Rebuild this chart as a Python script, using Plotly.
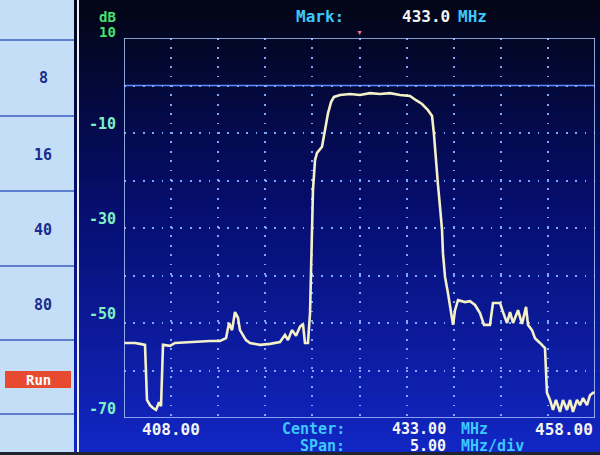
import plotly.graph_objects as go

# ---- data (frequency in MHz, level in dB) ----
freq_mhz = [408.0, 409.17, 409.7, 410.23, 410.44, 410.76, 411.08, 411.40, 411.72, 411.93,
            412.14, 412.88, 413.41, 415.0, 416.07, 417.13, 418.19, 418.83, 419.15, 419.47,
            419.78, 420.10, 420.31, 420.63, 420.95, 421.38, 422.44, 423.50, 424.56, 425.09,
            425.41, 425.83, 426.26, 426.68, 427.0, 427.21, 427.53, 427.75, 427.85, 427.96,
            428.06, 428.28, 428.49, 429.02, 429.34, 429.66, 429.98, 430.29, 430.93, 431.99,
            433.05, 434.11, 435.18, 436.24, 437.30, 438.36, 439.0, 439.64, 440.27, 440.70,
            440.91, 441.12, 441.33, 441.55, 441.76, 441.86, 442.08, 442.39, 442.71, 442.93,
            443.14, 443.46, 444.20, 444.73, 445.26, 445.79, 446.22, 446.85, 447.17, 447.92,
            448.23, 448.66, 448.98, 449.30, 449.83, 450.25, 450.68, 450.89, 451.31, 451.63,
            452.16, 452.69, 452.90, 453.22, 453.54, 453.86, 454.28, 454.60, 455.03, 455.35,
            455.66, 456.09, 456.41, 456.73, 457.15, 457.47, 457.79, 458.0]
level_db = [-54.2, -54.2, -54.4, -54.6, -66.2, -67.3, -67.9, -68.3, -66.7, -67.5,
            -54.6, -54.8, -54.2, -54.0, -54.0, -53.8, -53.8, -53.2, -50.0, -51.5,
            -47.7, -48.9, -51.5, -52.5, -53.6, -54.2, -54.6, -54.4, -54.0, -52.5,
            -53.6, -51.5, -52.7, -50.8, -50.2, -54.2, -54.2, -47.9, -38.9, -31.9,
            -22.0, -15.7, -14.2, -12.9, -9.4, -5.8, -3.5, -2.4, -2.0, -1.8,
            -2.0, -1.6, -1.8, -1.6, -2.0, -2.2, -3.1, -3.9, -5.2, -6.4,
            -10.4, -16.7, -20.9, -25.6, -30.4, -35.3, -40.3, -43.7, -47.9, -50.4,
            -47.3, -45.2, -45.6, -45.4, -46.2, -47.9, -50.4, -50.4, -45.8, -45.8,
            -47.7, -50.0, -47.7, -50.0, -47.3, -50.2, -46.6, -50.4, -51.5, -53.2,
            -54.2, -55.3, -64.7, -66.2, -68.3, -66.2, -68.7, -66.2, -68.3, -66.2,
            -68.7, -66.2, -67.3, -65.8, -67.3, -65.2, -64.7, -64.7]

y_label_vals = [-10, -30, -50, -70]
y_label_text = ["-10", "-30", "-50", "-70"]
x_start_label = "408.00"
x_stop_label = "458.00"
center_label = "433.00"
span_label = "5.00"
marker_label = "433.0"
marker_freq = 433.0
panel_labels = ["8", "16", "40", "80"]

W, H = 600, 455
FONT = "DejaVu Sans Mono"

def px(x):
    return x / W

def py(y):
    return 1 - y / H

fig = go.Figure()
fig.add_trace(go.Scatter(x=freq_mhz, y=level_db, mode="lines",
                         line=dict(color="#f4f0c8", width=2.6),
                         hoverinfo="skip", showlegend=False))

shapes = []
def lerp(a, b, t):
    return int(a + (b - a) * t)

top_c = (3, 6, 22)
mid_c = (6, 14, 110)
bot_c = (18, 38, 196)
n = 46
for i in range(n):
    t = i / (n - 1)
    if t < 0.45:
        u = t / 0.45
        c = tuple(lerp(top_c[k], mid_c[k], u) for k in range(3))
    else:
        u = (t - 0.45) / 0.55
        c = tuple(lerp(mid_c[k], bot_c[k], u) for k in range(3))
    y0 = i * H / n
    y1 = (i + 1) * H / n + 1
    shapes.append(dict(type="rect", xref="paper", yref="paper",
                       x0=0, x1=1, y0=py(y1), y1=py(y0),
                       fillcolor="rgb(%d,%d,%d)" % c, line_width=0, layer="below"))
shapes.append(dict(type="rect", xref="paper", yref="paper", x0=0, x1=1,
                   y0=0, y1=py(452), fillcolor="#20242c", line_width=0, layer="below"))
# left panel
shapes.append(dict(type="rect", xref="paper", yref="paper", x0=0, x1=px(74),
                   y0=py(452), y1=1, fillcolor="#c4def8", line_width=0, layer="below"))
for yy in [40, 116, 191, 266, 340, 414]:
    shapes.append(dict(type="line", xref="paper", yref="paper", x0=0, x1=px(74),
                       y0=py(yy), y1=py(yy), line=dict(color="#3a5cc0", width=1.5)))
shapes.append(dict(type="line", xref="paper", yref="paper", x0=px(78), x1=px(78),
                   y0=py(452), y1=1, line=dict(color="#e8f0ff", width=2)))
shapes.append(dict(type="rect", xref="paper", yref="paper", x0=px(5), x1=px(71),
                   y0=py(388), y1=py(371), fillcolor="#e84a30", line_width=0))
# reference level line at 0 dB
shapes.append(dict(type="line", xref="x", yref="y", x0=408, x1=458, y0=0, y1=0,
                   line=dict(color="#5a8cff", width=1.6), layer="below"))
# frame
shapes.append(dict(type="rect", xref="x", yref="y", x0=408, x1=458, y0=-70, y1=10,
                   line=dict(color="#b0ccff", width=1.6)))

ann = []
def text(x, y, s, color, size=16, xanchor="left", bold=True, xref="paper", yref="paper", yanchor="middle", yshift=0):
    ann.append(dict(x=x, y=y, xref=xref, yref=yref, text=("<b>%s</b>" % s) if bold else s,
                    showarrow=False, xanchor=xanchor, yanchor=yanchor, yshift=yshift,
                    font=dict(family=FONT, size=size, color=color)))

for v, s in zip(y_label_vals, y_label_text):
    text(px(118), v, s, "#7ef0c4", size=15, xanchor="right", yref="y", yanchor="bottom", yshift=-2)
text(px(118), py(32), "10", "#48e070", size=14, xanchor="right")
text(px(118), py(17), "dB", "#48e070", size=14, xanchor="right")

text(px(294), py(17), "Mark:", "#3cc8ff")
text(px(400), py(17), marker_label, "#f4f4f4")
text(px(456), py(17), "MHz", "#3cc8ff")
ann.append(dict(x=marker_freq, y=10, xref="x", yref="y", text="▼", showarrow=False,
                yanchor="bottom", yshift=-1, font=dict(size=7, color="#ff7090")))

BS = 15
text(px(140), py(429), x_start_label, "#f4f4f4", size=BS + 1)
text(px(595), py(429), x_stop_label, "#f4f4f4", size=BS + 1, xanchor="right")
text(px(347), py(429), "Center:", "#3cc8ff", size=BS, xanchor="right")
text(px(448), py(429), center_label, "#f4f4f4", size=BS, xanchor="right")
text(px(459), py(429), "MHz", "#3cc8ff", size=BS)
text(px(347), py(446), "SPan:", "#3cc8ff", size=BS, xanchor="right")
text(px(448), py(446), span_label, "#f4f4f4", size=BS, xanchor="right")
text(px(459), py(446), "MHz/div", "#3cc8ff", size=BS)

for s, yy in zip(panel_labels, [78, 155, 230, 305]):
    text(px(43), py(yy), s, "#1a2c8c", size=15, xanchor="center")
text(px(38), py(380), "Run", "#ffffff", size=14, xanchor="center")

grid = dict(showgrid=True, gridcolor="#7aa8ff", gridwidth=1.8, griddash="1.8px,7.6px",
            zeroline=False, showticklabels=False, ticks="", showline=False)

fig.update_layout(
    width=W, height=H, margin=dict(l=0, r=0, t=0, b=0),
    paper_bgcolor="#03061a", plot_bgcolor="rgba(0,0,0,0)",
    xaxis=dict(domain=[px(124), px(595)], range=[408, 458], dtick=5, tick0=408, **grid),
    yaxis=dict(domain=[py(418), py(38)], range=[-70, 10], dtick=10, tick0=-70, **grid),
    shapes=shapes, annotations=ann, showlegend=False,
)

fig.write_html("out.html", config={"displayModeBar": False},
               post_script="document.body.style.margin='0';document.body.style.overflow='hidden';")
